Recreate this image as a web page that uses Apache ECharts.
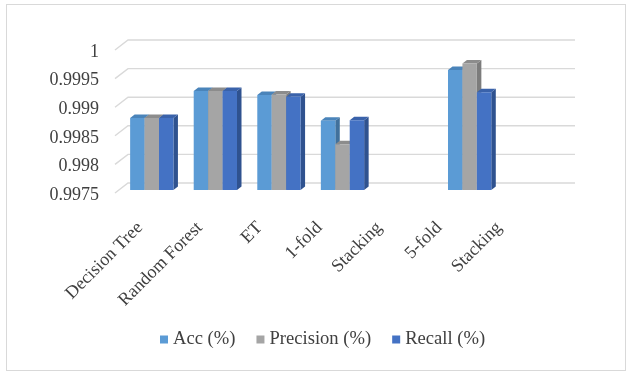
<!DOCTYPE html>
<html>
<head>
<meta charset="utf-8">
<script src="https://cdn.jsdelivr.net/npm/echarts@6/dist/echarts.min.js"></script>
<style>
  html, body { margin: 0; padding: 0; background: #fff; }
  #wrap { position: relative; width: 628px; height: 373px; }
  #border { position: absolute; left: 6px; top: 4px; width: 620px; height: 367px; border: 1px solid #d9d9d9; box-sizing: border-box; }
  #chart { position: absolute; left: 0; top: 0; width: 628px; height: 373px; }
</style>
</head>
<body>
<div id="wrap"><div id="border"></div><div id="chart"></div></div>
<script>
// ---- data ----
var categories = ['Decision Tree', 'Random Forest', 'ET', '1-fold', 'Stacking', '5-fold', 'Stacking'];
var accValues = [0.99876, 0.99923, 0.99916, 0.99871, null, 0.99960, null];
var precisionValues = [0.99876, 0.99923, 0.99917, 0.99830, null, 0.99971, null];
var recallValues = [0.99876, 0.99923, 0.99913, 0.99872, null, 0.99921, null];
var seriesNames = ['Acc (%)', 'Precision (%)', 'Recall (%)'];
var yTicks = [0.9975, 0.998, 0.9985, 0.999, 0.9995, 1];

// ---- styling ----
var FONT = 'Liberation Serif';
var TEXT = '#404040';
var faceColors = ['#5B9BD5', '#A5A5A5', '#4472C4'];
var topColors = ['#4A84BA', '#8C8C8C', '#3A62AA'];
var sideColors = ['#41719C', '#7C7C7C', '#2F528F'];
var DX = 4.5, DY = 3.5;
var FRONT_DY = -5;   // front plane of bars relative to axis coordinate
var BACK_DY = -12;   // back wall relative to axis coordinate
var SLANT_DY = -2;   // front end of slanted gridline

var chart = echarts.init(document.getElementById('chart'), null, { renderer: 'canvas' });

function barRenderer(k) {
  return function (params, api) {
    var cat = api.value(0), val = api.value(1);
    if (val == null || isNaN(val)) return null;
    var base = api.coord([cat, yTicks[0]]);
    var top = api.coord([cat, val]);
    var bandW = api.size([1, 0])[0];
    var barW = bandW * 0.227;
    var x0 = top[0] - barW * 1.5 + k * barW;
    var yt = top[1] + FRONT_DY, yb = base[1] + FRONT_DY;
    return {
      type: 'group',
      children: [
        { type: 'polygon', shape: { points: [[x0 + barW, yt], [x0 + barW + DX, yt - DY], [x0 + barW + DX, yb - DY], [x0 + barW, yb]] },
          style: { fill: sideColors[k] } },
        { type: 'polygon', shape: { points: [[x0, yt], [x0 + DX, yt - DY], [x0 + barW + DX, yt - DY], [x0 + barW, yt]] },
          style: { fill: topColors[k] } },
        { type: 'rect', shape: { x: x0, y: yt, width: barW, height: yb - yt },
          style: { fill: faceColors[k] } }
      ]
    };
  };
}

function gridRenderer(params, api) {
  var p = api.coord([0, api.value(1)]);
  var cs = params.coordSys;
  return {
    type: 'polyline',
    shape: { points: [[cs.x - 5, p[1] + SLANT_DY], [cs.x + 8, p[1] + BACK_DY], [cs.x + cs.width + 10, p[1] + BACK_DY]] },
    style: { stroke: '#d9d9d9', lineWidth: 1.4, fill: null }
  };
}

var valueLists = [accValues, precisionValues, recallValues];
var barSeries = seriesNames.map(function (name, k) {
  return {
    name: name,
    type: 'custom',
    xAxisIndex: 0, yAxisIndex: 0,
    renderItem: barRenderer(k),
    encode: { x: 0, y: 1 },
    itemStyle: { color: faceColors[k] },
    z: 3,
    data: valueLists[k].map(function (v, i) { return [i, v == null ? NaN : v]; })
  };
});

var option = {
  animation: false,
  backgroundColor: 'transparent',
  grid: [
    { left: 120, right: 63, top: 52, bottom: 178 },
    { left: 110, right: 99, top: 52, bottom: 178 }
  ],
  legend: {
    data: seriesNames,
    left: 160, top: 330,
    padding: 0,
    itemWidth: 8, itemHeight: 8, itemGap: 21,
    icon: 'rect',
    textStyle: { fontFamily: FONT, fontSize: 18.6, color: TEXT }
  },
  xAxis: [
    { type: 'category', gridIndex: 0, data: categories, show: false },
    { type: 'category', gridIndex: 1, data: categories,
      axisLine: { show: false }, axisTick: { show: false },
      axisLabel: { rotate: 45, margin: 30, interval: 0, fontFamily: FONT, fontSize: 18, color: TEXT } }
  ],
  yAxis: [
    { type: 'value', gridIndex: 0, min: yTicks[0], max: yTicks[yTicks.length - 1], interval: 0.0005,
      axisLine: { show: false }, axisTick: { show: false }, splitLine: { show: false },
      axisLabel: { margin: 21, fontFamily: FONT, fontSize: 18, color: TEXT,
        formatter: function (v) { return String(Number(v.toFixed(4))); } } },
    { type: 'value', gridIndex: 1, min: yTicks[0], max: yTicks[yTicks.length - 1], show: false }
  ],
  series: [
    { name: 'grid', type: 'custom', xAxisIndex: 0, yAxisIndex: 0, silent: true, z: 1,
      renderItem: gridRenderer, encode: { x: 0, y: 1 },
      data: yTicks.map(function (v) { return [0, v]; }) }
  ].concat(barSeries)
};
chart.setOption(option);
</script>
</body>
</html>
